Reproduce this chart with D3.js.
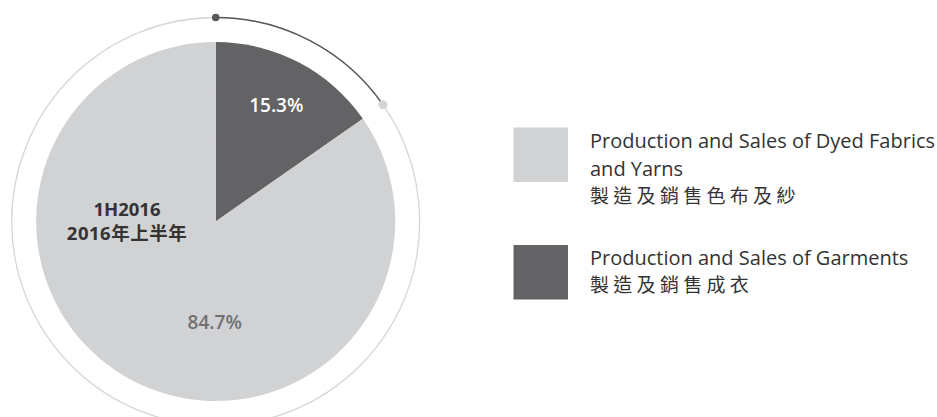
<!DOCTYPE html>
<html><head><meta charset="utf-8">
<script src="https://cdn.jsdelivr.net/npm/d3@7"></script>
<style>body{margin:0;background:#fff}svg{display:block}</style>
</head><body>
<svg id="c" width="937" height="417"></svg>
<script>
// Data
const categories = ["Production and Sales of Garments", "Production and Sales of Dyed Fabrics and Yarns"];
const categoriesZh = ["製造及銷售成衣", "製造及銷售色布及紗"];
const values = [15.3, 84.7];
const valueLabels = ["15.3%", "84.7%"];
const periodLabels = ["1H2016", "2016年上半年"];
const legendOrder = [1, 0];
const legendLinesEn = [["Production and Sales of Garments"], ["Production and Sales of Dyed Fabrics", "and Yarns"]];

const colors = ["#636365", "#d1d2d4"];
const svg = d3.select("#c");
const font = "'Open Sans', 'Noto Sans CJK TC', sans-serif";
const cx = 215.7, cy = 221.5, R = 179.5, ringR = 204;

const pie = d3.pie().sort(null).value(d => d);
const arcs = pie(values);
const arc = d3.arc().innerRadius(0).outerRadius(R);
const g = svg.append("g").attr("transform", `translate(${cx},${cy})`);

g.selectAll("path.slice").data(arcs).enter().append("path")
  .attr("class", "slice").attr("d", arc).attr("fill", (d, i) => colors[i]);

// outer ring
g.append("circle").attr("r", ringR).attr("fill", "none").attr("stroke", "#d6d6d8").attr("stroke-width", 1.3);
const ringArc = d3.arc().innerRadius(ringR).outerRadius(ringR);
g.append("path").attr("d", ringArc({startAngle: arcs[0].startAngle, endAngle: arcs[0].endAngle}))
  .attr("fill", "none").attr("stroke", "#58585a").attr("stroke-width", 1.4);
const pt = a => [ringR * Math.sin(a), -ringR * Math.cos(a)];
const p0 = pt(arcs[0].startAngle), p1 = pt(arcs[0].endAngle);
g.append("circle").attr("cx", p0[0]).attr("cy", p0[1]).attr("r", 3.8).attr("fill", "#58585a");
g.append("circle").attr("cx", p1[0]).attr("cy", p1[1]).attr("r", 4.5).attr("fill", "#d6d6d8");

// value labels
const mid0 = (arcs[0].startAngle + arcs[0].endAngle) / 2;
const lr0 = 0.73 * R;
g.append("text").attr("x", lr0 * Math.sin(mid0)).attr("y", -lr0 * Math.cos(mid0) + 7)
  .attr("text-anchor", "middle").attr("font-family", font).attr("font-weight", 600)
  .attr("font-size", 19).attr("fill", "#ffffff").text(valueLabels[0]);
const lr1 = 0.56 * R;
g.append("text").attr("x", -1).attr("y", lr1 + 7)
  .attr("text-anchor", "middle").attr("font-family", font).attr("font-weight", 600)
  .attr("font-size", 19).attr("fill", "#707072").text(valueLabels[1]);

// period labels
svg.append("text").attr("x", 127).attr("y", 216).attr("text-anchor", "middle")
  .attr("font-family", font).attr("font-weight", 700).attr("font-size", 18.5).attr("fill", "#333")
  .text(periodLabels[0]);
svg.append("text").attr("x", 127).attr("y", 240).attr("text-anchor", "middle")
  .attr("font-family", font).attr("font-weight", 700).attr("font-size", 18.5).attr("fill", "#333")
  .attr("letter-spacing", 0.5)
  .text(periodLabels[1]);

// legend
const legTop = [127.5, 245];
legendOrder.forEach((ci, k) => {
  const lg = svg.append("g").attr("transform", `translate(513.5,${legTop[k]})`);
  lg.append("rect").attr("width", 54.5).attr("height", 54.5).attr("fill", colors[ci]);
  const lines = legendLinesEn[ci].concat([categoriesZh[ci]]);
  const startY = k === 0 ? 20.8 : 19.5;
  lines.forEach((t, j) => {
    const zh = j === lines.length - 1;
    lg.append("text").attr("x", 76.5).attr("y", startY + j * 27.2)
      .attr("font-family", font).attr("font-size", zh ? 19 : 20).attr("fill", "#333")
      .attr("letter-spacing", zh ? 4.3 : 0)
      .text(t);
  });
});
</script>
</body></html>
